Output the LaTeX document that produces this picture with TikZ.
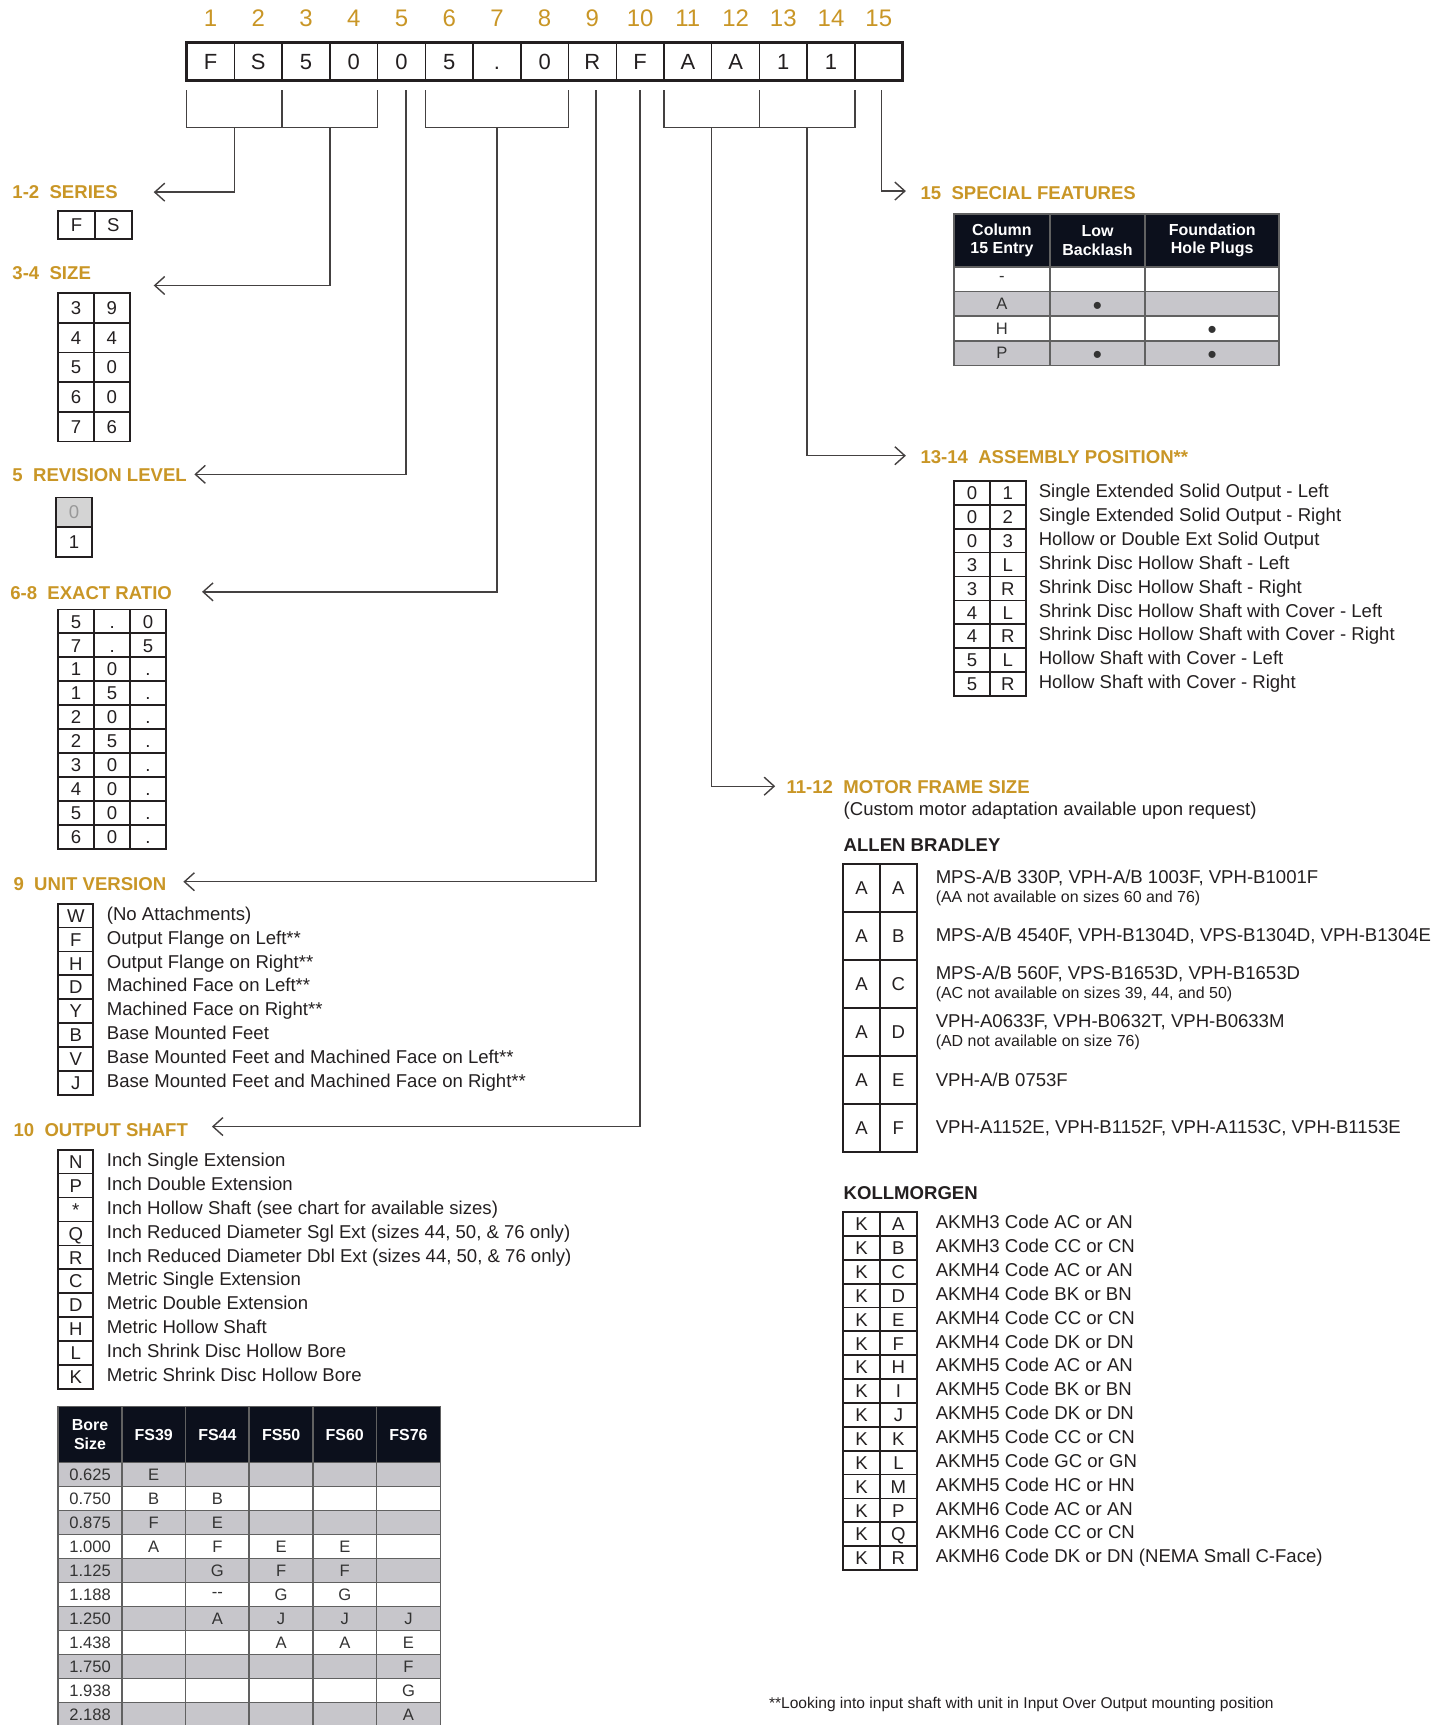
\documentclass[tikz,border=0pt]{standalone}
\usepackage{fontspec}
\setmainfont{Liberation Sans}
\usetikzlibrary{positioning,arrows.meta}
\definecolor{gold}{RGB}{201,150,38}
\definecolor{ink}{RGB}{35,31,32}
\definecolor{rowgray}{RGB}{199,198,203}
\definecolor{headblack}{RGB}{12,16,28}
\newcommand\notefont{\fontsize{8}{9.4}\selectfont}
\newcommand\dotmark{{\fontsize{13}{10}\selectfont\smash{\raisebox{-0.39em}{\textbullet}}}}

\begin{document}
\begin{tikzpicture}[x=0.55pt,y=-0.55pt,node distance=1mm,
  font=\fontsize{9.3}{11}\selectfont, text=ink,
  head/.style={anchor=west,inner sep=0pt,text=gold,font=\fontsize{9.3}{11}\selectfont\bfseries},
  brand/.style={anchor=west,inner sep=0pt,font=\fontsize{9.3}{11}\selectfont\bfseries},
  desc/.style={anchor=west,inner sep=0pt,text height=6.7pt,text depth=2pt},
  notebox/.style={anchor=west,inner sep=0pt,align=left,font=\fontsize{9.3}{9.4}\selectfont},
  cell/.style 2 args={draw=ink,line width=0.9pt,inner sep=0pt,outer sep=0pt,
    minimum width=#1,minimum height=#2,text height=6.7pt,text depth=0pt},
  tcell/.style 2 args={draw=black!62,line width=0.8pt,inner sep=0pt,outer sep=0pt,
    minimum width=#1,minimum height=#2,font=\fontsize{8.3}{10}\selectfont,text=black!80},
  thead/.style={fill=headblack,text=white,font=\fontsize{8}{9.4}\selectfont\bfseries,align=center},
  codecell/.style={draw=ink,line width=0.7pt,inner sep=0pt,outer sep=0pt,
    minimum width=23.9pt,minimum height=18.7pt,text height=7.6pt,text depth=0pt,
    font=\fontsize{11}{12}\selectfont},
  digit/.style={inner sep=0pt,text=gold,font=\fontsize{12}{12}\selectfont},
  lead/.style={draw=ink!85,line width=0.7pt},
  tip/.style={lead,-{Straight Barb[length=5pt,width=9pt]}}]
\useasboundingbox (0,0) rectangle (1320,1571);

% model code
\foreach \ch [count=\i] in {F,S,5,0,0,5,{.},0,R,F,A,A,1,1,{}} {
  \node[codecell] (c\i) at (148.27+43.47*\i,56) {\ch};
  \node[digit,above=7.8pt of c\i] (n\i) {\i};
}
\draw[draw=ink,line width=1.5pt] (c1.north west) rectangle (c15.south east);

% brackets under the code
\draw[lead] ([yshift=-5pt]c1.south west) -- (c1.south west |- 0,116) -- (c4.south east |- 0,116) -- ([yshift=-5pt]c4.south east);
\draw[lead] ([yshift=-5pt]c2.south east) -- (c2.south east |- 0,116);
\draw[lead] ([yshift=-5pt]c6.south west) -- (c6.south west |- 0,116) -- (c8.south east |- 0,116) -- ([yshift=-5pt]c8.south east);
\draw[lead] ([yshift=-5pt]c11.south west) -- (c11.south west |- 0,116) -- (c14.south east |- 0,116) -- ([yshift=-5pt]c14.south east);
\draw[lead] ([yshift=-5pt]c12.south east) -- (c12.south east |- 0,116);

% arrow ends
\coordinate (e12) at (140,175);
\coordinate (e34) at (140,260);
\coordinate (e5) at (177,432);
\coordinate (e68) at (184,539);
\coordinate (e9) at (167,803);
\coordinate (e10) at (193,1026);
\coordinate (e1112) at (706,716);
\coordinate (e1314) at (825,415);
\coordinate (e15) at (825,174);

\draw[tip] (c1.south east |- 0,116) |- (e12);
\draw[tip] (c3.south east |- 0,116) |- (e34);
\draw[tip] ([xshift=2.2pt,yshift=-5pt]c5.south) |- (e5);
\draw[tip] (c7.south |- 0,116) |- (e68);
\draw[tip] ([xshift=1.9pt,yshift=-5pt]c9.south) |- (e9);
\draw[tip] ([yshift=-5pt]c10.south) |- (e10);
\draw[tip] (c11.south east |- 0,116) |- (e1112);
\draw[tip] (c13.south east |- 0,116) |- (e1314);
\draw[tip] ([xshift=1.5pt,yshift=-5pt]c15.south) |- (e15);

% headings
\node[head] (ser) at (11,175) {1-2\ \ SERIES};
\node[head] (siz) at (11,249) {3-4\ \ SIZE};
\node[head] (rev) at (11,433) {5\ \ REVISION LEVEL};
\node[head] (rat) at (9,540) {6-8\ \ EXACT RATIO};
\node[head] (uni) at (12,805) {9\ \ UNIT VERSION};
\node[head] (osh) at (12,1029) {10\ \ OUTPUT SHAFT};
\node[head] (spf) at (838,176) {15\ \ SPECIAL FEATURES};
\node[head] (asm) at (838,416) {13-14\ \ ASSEMBLY POSITION**};
\node[head] (mfs) at (716,717) {11-12\ \ MOTOR FRAME SIZE};

% series
\foreach \ch [count=\i] in {F,S}
  \node[cell={18.4pt}{14.3pt}] (ser\i) at (36.25+33.5*\i,205) {\ch};

% size
\foreach \p/\q [count=\r] in {3/9,4/4,5/0,6/0,7/6} {
  \node[cell={17.9pt}{14.85pt}] (siz\r-a) at (69.25,253.5+27*\r) {\p};
  \node[cell={17.9pt}{14.85pt},right=0pt of siz\r-a] (siz\r-b) {\q};
}

% revision level
\node[cell={18.15pt}{14.85pt},fill=black!17,text=black!40] (rev0) at (67.5,466.5) {0};
\node[cell={18.15pt}{14.85pt},below=0pt of rev0] (rev1) {1};

% exact ratio
\foreach \p/\q/\s [count=\r] in {5/{.}/0,7/{.}/5,1/0/{.},1/5/{.},2/0/{.},2/5/{.},3/0/{.},4/0/{.},5/0/{.},6/0/{.}} {
  \node[cell={18pt}{12pt}] (rat\r-a) at (69.35,544.1+21.8*\r) {\p};
  \node[cell={18pt}{12pt},right=0pt of rat\r-a] (rat\r-b) {\q};
  \node[cell={18pt}{12pt},right=0pt of rat\r-b] (rat\r-c) {\s};
}

% unit version
\foreach \k/\t [count=\r] in {W/(No Attachments), F/Output Flange on Left**,
    H/Output Flange on Right**, D/Machined Face on Left**, Y/Machined Face on Right**,
    B/Base Mounted Feet, V/Base Mounted Feet and Machined Face on Left**,
    J/Base Mounted Feet and Machined Face on Right**} {
  \node[cell={17.6pt}{11.96pt}] (uv\r) at (69,812.1+21.75*\r) {\k};
  \node[desc,right=6.6pt of uv\r] (uvt\r) {\t};
}

% output shaft
\foreach \k/\t [count=\r] in {N/Inch Single Extension, P/Inch Double Extension,
    */{Inch Hollow Shaft (see chart for available sizes)},
    Q/{Inch Reduced Diameter Sgl Ext (sizes 44, 50, \& 76 only)},
    R/{Inch Reduced Diameter Dbl Ext (sizes 44, 50, \& 76 only)},
    C/Metric Single Extension, D/Metric Double Extension, H/Metric Hollow Shaft,
    L/Inch Shrink Disc Hollow Bore, K/Metric Shrink Disc Hollow Bore} {
  \node[cell={17.6pt}{11.99pt}] (os\r) at (69,1036.1+21.8*\r) {\k};
  \node[desc,right=6.6pt of os\r] (ost\r) {\t};
}

% bore chart
\foreach \h [count=\i] in {{Bore\\Size},FS39,FS44,FS50,FS60,FS76}
  \node[tcell={31.9pt}{28pt},thead] (bh\i) at (24+58*\i,1306.5) {\h};
\foreach \b/\fa/\fb/\fc/\fd/\fe [count=\r] in {0.625/E/{}/{}/{}/{},0.750/B/B/{}/{}/{},
    0.875/F/E/{}/{}/{},1.000/A/F/E/E/{},1.125/{}/G/F/F/{},1.188/{}/-{}-/G/G/{},
    1.250/{}/A/J/J/J,1.438/{}/{}/A/A/E,1.750/{}/{}/{}/{}/F,1.938/{}/{}/{}/{}/G,
    2.188/{}/{}/{}/{}/A} {
  \ifodd\r \def\rowfill{rowgray}\else\def\rowfill{white}\fi
  \node[tcell={31.9pt}{12pt},fill=\rowfill] (bs\r) at (82,1321.1+21.85*\r) {\b};
  \node[tcell={31.9pt}{12pt},fill=\rowfill,right=0pt of bs\r] (b\r-1) {\fa};
  \node[tcell={31.9pt}{12pt},fill=\rowfill,right=0pt of b\r-1] (b\r-2) {\fb};
  \node[tcell={31.9pt}{12pt},fill=\rowfill,right=0pt of b\r-2] (b\r-3) {\fc};
  \node[tcell={31.9pt}{12pt},fill=\rowfill,right=0pt of b\r-3] (b\r-4) {\fd};
  \node[tcell={31.9pt}{12pt},fill=\rowfill,right=0pt of b\r-4] (b\r-5) {\fe};
}

% special features
\node[tcell={47.85pt}{26.4pt},thead] (sh1) at (912.5,219) {Column\\15 Entry};
\node[tcell={47.85pt}{26.4pt},thead,right=0pt of sh1] (sh2) {Low\\Backlash};
\node[tcell={67.1pt}{26.4pt},thead,right=0pt of sh2] (sh3) {Foundation\\Hole Plugs};
\foreach \e/\lb/\hp [count=\r] in {-/{}/{},A/\dotmark/{},H/{}/\dotmark,P/\dotmark/\dotmark} {
  \ifodd\r \def\rowfill{white}\else\def\rowfill{rowgray}\fi
  \node[tcell={47.85pt}{12.375pt},fill=\rowfill] (sf\r-a) at (912.5,231.75+22.5*\r) {\e};
  \node[tcell={47.85pt}{12.375pt},fill=\rowfill,right=0pt of sf\r-a] (sf\r-b) {\lb};
  \node[tcell={67.1pt}{12.375pt},fill=\rowfill,right=0pt of sf\r-b] (sf\r-c) {\hp};
}

% assembly position
\foreach \p/\q/\t [count=\r] in {0/1/Single Extended Solid Output - Left,
    0/2/Single Extended Solid Output - Right, 0/3/Hollow or Double Ext Solid Output,
    3/L/Shrink Disc Hollow Shaft - Left, 3/R/Shrink Disc Hollow Shaft - Right,
    4/L/Shrink Disc Hollow Shaft with Cover - Left, 4/R/Shrink Disc Hollow Shaft with Cover - Right,
    5/L/Hollow Shaft with Cover - Left, 5/R/Hollow Shaft with Cover - Right} {
  \node[cell={17.9pt}{11.98pt}] (ap\r-a) at (885.25,427+21.78*\r) {\p};
  \node[cell={17.9pt}{11.98pt},right=0pt of ap\r-a] (ap\r-b) {\q};
  \node[desc,right=6.4pt of ap\r-b] (apt\r) {\t};
}

% motor frame size
\node[desc] (mfn) at (768,738) {(Custom motor adaptation available upon request)};
\node[brand] (ab) at (768,770) {ALLEN BRADLEY};
\foreach \q/\t [count=\r] in {
    A/{MPS-A/B 330P, VPH-A/B 1003F, VPH-B1001F\\\notefont (AA not available on sizes 60 and 76)},
    B/{MPS-A/B 4540F, VPH-B1304D, VPS-B1304D, VPH-B1304E},
    C/{MPS-A/B 560F, VPS-B1653D, VPH-B1653D\\\notefont (AC not available on sizes 39, 44, and 50)},
    D/{VPH-A0633F, VPH-B0632T, VPH-B0633M\\\notefont (AD not available on size 76)},
    E/{VPH-A/B 0753F},
    F/{VPH-A1152E, VPH-B1152F, VPH-A1153C, VPH-B1153E}} {
  \node[cell={18.4pt}{24pt}] (ab\r-a) at (784.75,765+43.67*\r) {A};
  \node[cell={18.4pt}{24pt},right=0pt of ab\r-a] (ab\r-b) {\q};
  \node[notebox,right=9.3pt of ab\r-b] (abt\r) {\t};
}

\node[brand] (kol) at (768,1087) {KOLLMORGEN};
\foreach \q/\t [count=\r] in {A/AKMH3 Code AC or AN, B/AKMH3 Code CC or CN,
    C/AKMH4 Code AC or AN, D/AKMH4 Code BK or BN, E/AKMH4 Code CC or CN,
    F/AKMH4 Code DK or DN, H/AKMH5 Code AC or AN, I/AKMH5 Code BK or BN,
    J/AKMH5 Code DK or DN, K/AKMH5 Code CC or CN, L/AKMH5 Code GC or GN,
    M/AKMH5 Code HC or HN, P/AKMH6 Code AC or AN, Q/AKMH6 Code CC or CN,
    R/AKMH6 Code DK or DN (NEMA Small C-Face)} {
  \node[cell={18.4pt}{11.95pt}] (km\r-a) at (784.75,1093+21.73*\r) {K};
  \node[cell={18.4pt}{11.95pt},right=0pt of km\r-a] (km\r-b) {\q};
  \node[desc,right=9.3pt of km\r-b] (kmt\r) {\t};
}

\node[desc,font=\fontsize{7.8}{9}\selectfont] (fn) at (700,1552)
  {**Looking into input shaft with unit in Input Over Output mounting position};
\end{tikzpicture}
\end{document}
